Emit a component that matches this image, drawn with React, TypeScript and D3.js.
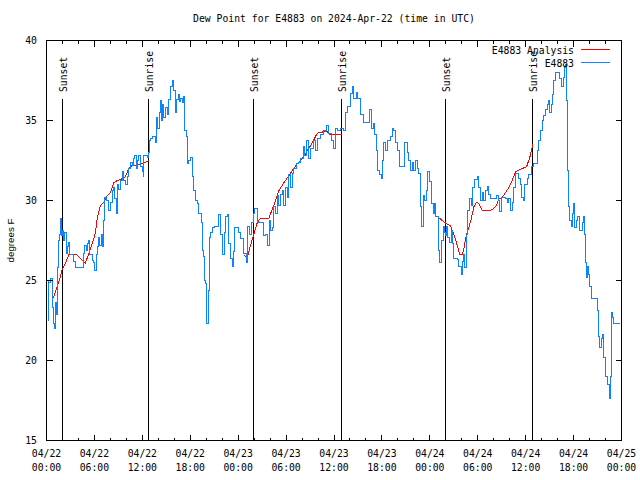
import React from "react";
import * as d3 from "d3";

// Observations: [hours since 2024-04-22 00:00 UTC, dew point °F]
const obsSeries: [number, number][] = [
  [0.06, 25.0], [0.19, 25.0], [0.25, 22.5], [0.31, 24.9], [0.56, 25.1], [0.69, 24.7], [0.81, 23.3], [0.91, 22.3],
  [1.0, 22.0], [1.09, 23.6], [1.21, 22.9], [1.34, 25.8], [1.47, 27.5], [1.67, 27.9], [1.75, 28.9], [1.88, 27.8],
  [2.0, 28.1], [2.17, 27.5], [2.29, 28.0], [2.47, 26.7], [2.59, 27.1], [2.79, 27.4], [2.92, 26.6], [3.22, 26.6],
  [3.42, 26.2], [3.63, 25.8], [4.47, 25.8], [4.6, 26.7], [4.76, 27.2], [4.97, 26.9], [5.1, 27.3], [5.3, 27.5],
  [5.42, 26.6], [5.6, 26.6], [5.72, 26.25], [5.92, 26.1], [6.05, 25.6], [6.22, 26.6], [6.35, 27.1], [6.55, 27.7],
  [6.67, 27.2], [6.85, 27.9], [6.97, 27.1], [7.17, 28.75], [7.3, 30.2], [7.51, 30.0], [7.73, 29.4], [8.01, 29.9],
  [8.23, 30.6], [8.43, 30.8], [8.55, 30.1], [8.73, 29.2], [8.85, 31.0], [9.05, 30.7], [9.27, 31.25], [9.48, 31.8],
  [9.68, 31.25], [9.89, 31.0], [10.11, 31.5], [10.31, 32.0], [10.52, 32.4], [10.73, 32.2], [10.93, 32.6], [11.06, 32.8],
  [11.23, 32.0], [11.39, 32.5], [11.56, 32.8], [11.77, 32.1], [11.98, 31.8], [12.11, 31.5], [12.18, 32.8], [12.4, 32.8],
  [12.61, 32.7], [12.73, 33.0], [12.9, 33.75], [13.02, 33.9], [13.27, 34.0], [13.65, 33.6], [13.77, 35.2], [13.96, 34.5],
  [14.09, 35.5], [14.28, 36.25], [14.4, 35.0], [14.53, 36.0], [14.71, 35.2], [14.9, 35.8], [15.11, 35.4], [15.28, 36.3],
  [15.53, 37.1], [15.82, 37.5], [15.9, 36.9], [16.15, 35.5], [16.28, 36.3], [16.53, 36.6], [16.65, 36.2], [16.78, 36.4],
  [16.97, 36.1], [17.16, 36.5], [17.28, 34.4], [17.53, 34.0], [17.66, 32.3], [17.84, 32.5], [18.03, 32.7], [18.28, 31.5],
  [18.41, 30.6], [18.66, 30.0], [18.91, 29.8], [19.03, 29.2], [19.37, 28.6], [19.53, 26.9], [19.66, 26.5], [19.78, 25.0],
  [19.91, 24.8], [20.04, 22.3], [20.25, 24.4], [20.41, 27.7], [20.54, 28.0], [20.75, 28.3], [21.04, 28.4], [21.38, 28.4],
  [21.58, 29.1], [21.79, 27.9], [22.04, 26.6], [22.23, 28.0], [22.41, 29.0], [22.63, 29.1], [22.79, 27.3], [23.04, 26.4],
  [23.29, 25.9], [23.42, 26.8], [23.54, 28.3], [23.88, 28.3], [24.04, 28.0], [24.29, 27.6], [24.67, 26.7], [25.04, 26.1],
  [25.17, 28.4], [25.42, 27.9], [25.67, 28.6], [25.88, 29.2], [26.05, 29.5], [26.38, 28.6], [26.8, 28.6], [27.14, 27.8],
  [27.42, 27.9], [27.67, 27.2], [27.89, 28.75], [28.05, 28.1], [28.34, 28.3], [28.46, 29.6], [28.68, 29.2], [28.89, 30.3],
  [29.09, 29.7], [29.3, 30.4], [29.51, 30.6], [29.71, 29.7], [29.93, 30.8], [30.14, 30.2], [30.34, 31.6], [30.55, 30.8],
  [30.77, 31.7], [30.97, 32.0], [31.27, 32.3], [31.59, 32.4], [31.81, 32.6], [32.14, 33.4], [32.34, 32.8], [32.52, 33.75],
  [32.84, 32.6], [33.06, 33.25], [33.4, 33.75], [33.68, 33.1], [33.97, 33.9], [34.31, 34.1], [34.72, 34.4], [35.06, 34.7],
  [35.35, 34.2], [35.65, 33.75], [35.98, 33.25], [36.19, 34.5], [36.48, 34.4], [36.81, 34.5], [37.15, 34.4], [37.44, 35.5],
  [37.73, 35.9], [38.07, 36.7], [38.28, 37.1], [38.48, 36.4], [38.82, 36.75], [38.98, 36.4], [39.32, 35.4], [39.73, 34.9],
  [40.23, 34.9], [40.48, 35.7], [40.7, 34.5], [40.91, 34.8], [41.07, 34.1], [41.28, 33.1], [41.49, 31.9], [41.7, 31.6],
  [41.95, 31.4], [42.11, 32.5], [42.24, 33.6], [42.45, 33.1], [42.66, 33.75], [43.08, 34.0], [43.29, 34.5], [43.49, 34.4],
  [43.7, 33.6], [43.99, 33.1], [44.24, 32.1], [44.74, 32.1], [44.87, 33.6], [45.17, 33.0], [45.37, 32.5], [45.58, 31.9],
  [45.79, 32.4], [45.99, 31.9], [46.21, 32.5], [46.42, 32.0], [46.62, 31.7], [46.83, 29.6], [46.96, 28.4], [47.17, 30.3],
  [47.37, 30.0], [47.58, 30.6], [47.74, 31.8], [47.96, 31.2], [48.17, 29.8], [48.42, 29.2], [48.59, 29.8], [48.77, 29.0],
  [48.96, 29.0], [49.12, 26.9], [49.25, 26.1], [49.42, 27.5], [49.67, 28.4], [49.84, 28.0], [50.0, 27.8], [50.09, 28.4],
  [50.25, 27.7], [50.5, 27.4], [50.68, 28.1], [50.8, 27.3], [51.0, 26.4], [51.43, 26.3], [51.63, 25.9], [51.97, 25.4],
  [52.13, 26.2], [52.26, 26.6], [52.38, 25.8], [52.56, 27.9], [52.76, 29.4], [52.97, 30.1], [53.18, 29.7], [53.38, 30.8],
  [53.63, 31.3], [53.93, 31.5], [54.13, 30.8], [54.35, 30.0], [54.56, 30.5], [54.76, 30.0], [54.97, 30.6], [55.18, 30.9],
  [55.38, 30.4], [55.6, 30.1], [56.01, 30.1], [56.35, 30.3], [56.56, 30.0], [56.76, 29.3], [56.94, 30.2], [57.19, 30.2],
  [57.48, 30.1], [57.69, 29.9], [57.89, 30.1], [58.1, 29.4], [58.31, 29.9], [58.51, 30.8], [58.73, 31.7], [58.94, 31.7],
  [59.14, 31.35], [59.35, 31.0], [59.48, 30.2], [59.69, 30.0], [59.85, 31.0], [60.19, 31.4], [60.39, 31.6], [60.73, 32.1],
  [61.02, 32.3], [61.23, 32.3], [61.44, 33.1], [61.65, 33.75], [61.86, 34.4], [62.07, 35.0], [62.27, 35.3], [62.48, 35.7],
  [62.7, 36.0], [62.9, 36.25], [63.02, 35.5], [63.2, 36.0], [63.32, 36.6], [63.52, 37.5], [63.74, 38.0], [64.02, 38.0],
  [64.27, 37.6], [64.45, 37.1], [64.7, 37.7], [64.9, 38.3], [64.99, 38.5], [65.11, 36.25], [65.2, 31.9], [65.33, 29.6],
  [65.53, 28.75], [65.7, 28.4], [65.83, 29.2], [66.03, 29.8], [66.15, 28.3], [66.33, 28.75], [66.53, 29.0], [66.74, 28.1],
  [66.87, 28.1], [67.08, 28.6], [67.2, 29.0], [67.37, 27.9], [67.49, 26.1], [67.62, 25.2], [67.7, 25.9], [67.83, 25.4],
  [67.99, 24.6], [68.21, 23.9], [68.87, 23.9], [69.03, 23.1], [69.16, 21.5], [69.28, 20.8], [69.46, 21.35], [69.58, 21.6],
  [69.78, 20.2], [70.0, 19.0], [70.21, 18.5], [70.46, 18.1], [70.54, 17.6], [70.66, 19.0], [70.75, 23.0], [70.87, 22.7],
  [70.96, 22.3], [71.87, 22.3],
];

// Analysis, one array per night
const analysisNight1: [number, number][] = [
  [0.84, 23.9], [1.19, 24.4], [1.54, 24.9], [1.97, 25.7], [2.38, 26.1], [2.79, 26.6], [3.84, 26.6], [4.47, 26.25],
  [4.88, 26.1], [5.3, 26.7], [5.72, 27.3], [6.14, 28.0], [6.35, 28.9], [6.76, 29.7], [7.17, 29.9], [7.6, 30.3],
  [8.01, 30.5], [8.43, 31.1], [8.85, 31.25], [9.27, 31.3], [9.89, 31.5], [10.31, 32.0], [10.73, 32.2], [11.36, 32.2],
  [11.98, 32.3], [12.81, 32.5],
];
const analysisNight2: [number, number][] = [
  [24.71, 26.6], [25.13, 26.4], [25.55, 27.2], [25.96, 27.9], [26.38, 28.6], [26.8, 28.9], [27.84, 28.9], [28.46, 29.7],
  [29.09, 30.6], [29.71, 31.1], [30.55, 31.7], [31.39, 32.3], [32.02, 32.6], [32.64, 33.1], [33.27, 33.6], [33.9, 34.2],
  [34.72, 34.3], [35.15, 34.3], [35.56, 34.1], [37.03, 34.1],
];
const analysisNight3: [number, number][] = [
  [48.92, 29.0], [49.55, 28.75], [49.96, 28.6], [50.59, 28.4], [51.0, 27.9], [51.43, 27.2], [51.75, 26.6], [52.05, 26.6],
  [52.26, 27.0], [52.59, 27.9], [52.88, 28.3], [53.18, 28.85], [53.51, 29.6], [53.84, 29.9], [54.13, 29.8], [54.56, 29.4],
  [55.6, 29.4], [56.01, 29.5], [56.35, 29.7], [56.64, 30.1], [57.06, 30.2], [57.48, 30.5], [57.89, 30.8], [58.31, 31.25],
  [58.73, 31.8], [59.14, 31.9], [59.57, 32.0], [60.11, 32.1], [60.52, 32.7], [60.9, 33.5],
];

const sunHours = [1.95, 12.8, 25.95, 36.88, 50.0, 60.9];
const sunLabels = ["Sunset", "Sunrise", "Sunset", "Sunrise", "Sunset", "Sunrise"];

const xTickHours = [0, 6, 12, 18, 24, 30, 36, 42, 48, 54, 60, 66, 72];
const xTickDates = ["04/22", "04/22", "04/22", "04/22", "04/23", "04/23", "04/23", "04/23", "04/24", "04/24", "04/24", "04/24", "04/25"];
const xTickTimes = ["00:00", "06:00", "12:00", "18:00", "00:00", "06:00", "12:00", "18:00", "00:00", "06:00", "12:00", "18:00", "00:00"];
const xMinorHours = d3.range(0, 73, 2);
const yTicks = [15, 20, 25, 30, 35, 40];

const titleText = "Dew Point for E4883 on 2024-Apr-22 (time in UTC)";
const yLabel = "degrees F";
const legendNames = ["E4883 Analysis", "E4883"];

const RED = "#ff0000";
const BLUE = "#0a84ff";
const MONO = "'DejaVu Sans Mono', 'Liberation Mono', monospace";
const FS = 9.75;

export default function App() {
  const left = 46.5, right = 621.5, top = 40.5, bottom = 440.5;
  const x = d3.scaleLinear().domain([0, 72]).range([left, right]);
  const y = d3.scaleLinear().domain([15, 40]).range([bottom, top]);

  const obsLine = d3.line<[number, number]>()
    .x((d) => x(d[0]))
    .y((d) => y(d[1]))
    .curve(d3.curveStepAfter);
  const anaLine = d3.line<[number, number]>()
    .x((d) => x(d[0]))
    .y((d) => y(d[1]));

  const snap = (v: number) => Math.round(v - 0.5) + 0.5;

  return (
    <svg
      width={640}
      height={480}
      style={{ position: "absolute", left: 0, top: 0, background: "#fff" }}
      fontFamily={MONO}
      fontSize={FS}
    >
      <rect x={0} y={0} width={640} height={480} fill="#fff" />
      {/* title */}
      <text x={(left + right) / 2} y={22} textAnchor="middle" fill="#000">
        {titleText}
      </text>
      {/* y label */}
      <text
        transform={`translate(14,${(top + bottom) / 2}) rotate(-90)`}
        textAnchor="middle"
        fontFamily="'Liberation Sans', Arial, sans-serif"
        fill="#000"
      >
        {yLabel}
      </text>

      {/* sunrise / sunset lines */}
      {sunHours.map((h, i) => (
        <g key={"sun" + i}>
          <line x1={snap(x(h))} x2={snap(x(h))} y1={98.5} y2={bottom} stroke="#000" strokeWidth={1} shapeRendering="crispEdges" />
          <text transform={`translate(${snap(x(h)) + 4.5},92) rotate(-90)`} textAnchor="start" fill="#000">
            {sunLabels[i]}
          </text>
        </g>
      ))}

      {/* data */}
      <path d={anaLine(analysisNight1) || ""} fill="none" stroke={RED} strokeWidth={1} shapeRendering="crispEdges" />
      <path d={anaLine(analysisNight2) || ""} fill="none" stroke={RED} strokeWidth={1} shapeRendering="crispEdges" />
      <path d={anaLine(analysisNight3) || ""} fill="none" stroke={RED} strokeWidth={1} shapeRendering="crispEdges" />
      <path d={obsLine(obsSeries) || ""} fill="none" stroke={BLUE} strokeWidth={1} shapeRendering="crispEdges" />

      {/* frame */}
      <rect x={left} y={top} width={right - left} height={bottom - top} fill="none" stroke="#000" strokeWidth={1} shapeRendering="crispEdges" />

      {/* x ticks */}
      {xMinorHours.map((h) => {
        const major = h % 6 === 0;
        const len = major ? 6 : 3;
        const xx = snap(x(h));
        return (
          <g key={"xt" + h}>
            <line x1={xx} x2={xx} y1={bottom} y2={bottom - len} stroke="#000" shapeRendering="crispEdges" />
            <line x1={xx} x2={xx} y1={top} y2={top + len} stroke="#000" shapeRendering="crispEdges" />
          </g>
        );
      })}
      {xTickHours.map((h, i) => (
        <text key={"xl" + h} x={x(h)} y={457} textAnchor="middle" fill="#000">
          <tspan x={x(h)} y={457}>{xTickDates[i]}</tspan>
          <tspan x={x(h)} y={471}>{xTickTimes[i]}</tspan>
        </text>
      ))}

      {/* y ticks */}
      {yTicks.map((v) => {
        const yy = snap(y(v));
        return (
          <g key={"yt" + v}>
            <line x1={left} x2={left + 6} y1={yy} y2={yy} stroke="#000" shapeRendering="crispEdges" />
            <line x1={right} x2={right - 6} y1={yy} y2={yy} stroke="#000" shapeRendering="crispEdges" />
            <text x={37} y={yy + 3.5} textAnchor="end" fill="#000">{v}</text>
          </g>
        );
      })}

      {/* legend */}
      <text x={574} y={53.5} textAnchor="end" fill="#000">{legendNames[0]}</text>
      <line x1={581} x2={610} y1={49.5} y2={49.5} stroke={RED} shapeRendering="crispEdges" />
      <text x={574} y={66.5} textAnchor="end" fill="#000">{legendNames[1]}</text>
      <line x1={581} x2={610} y1={62.5} y2={62.5} stroke={BLUE} shapeRendering="crispEdges" />
    </svg>
  );
}
